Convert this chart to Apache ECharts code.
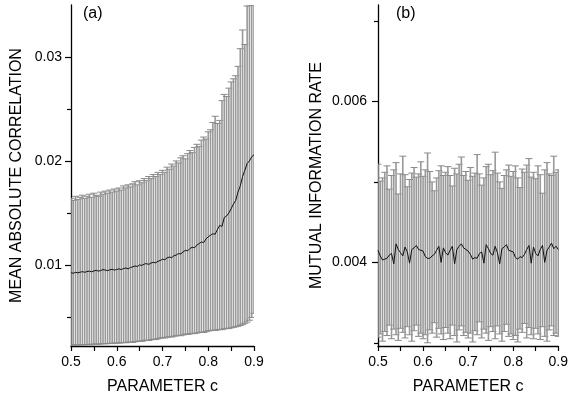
<!DOCTYPE html>
<html><head><meta charset="utf-8">
<script src="https://cdn.jsdelivr.net/npm/echarts@6/dist/echarts.min.js"></script>
<style>html,body{margin:0;padding:0;background:#fff}#c{width:571px;height:401px}</style>
</head><body><div id="c"></div>
<script>
// Parameter c values (shared by both panels)
const paramC = [0.500,0.505,0.510,0.515,0.520,0.525,0.530,0.535,0.540,0.545,
 0.550,0.555,0.560,0.565,0.570,0.575,0.580,0.585,0.590,0.595,
 0.600,0.605,0.610,0.615,0.620,0.625,0.630,0.635,0.640,0.645,
 0.650,0.655,0.660,0.665,0.670,0.675,0.680,0.685,0.690,0.695,
 0.700,0.705,0.710,0.715,0.720,0.725,0.730,0.735,0.740,0.745,
 0.750,0.755,0.760,0.765,0.770,0.775,0.780,0.785,0.790,0.795,
 0.800,0.805,0.810,0.815,0.820,0.825,0.830,0.835,0.840,0.845,
 0.850,0.855,0.860,0.865,0.870,0.875,0.880,0.885,0.890,0.895,0.900];

// Panel (a): mean absolute correlation
const meanA = [0.00925,0.00920,0.00928,0.00924,0.00930,0.00935,0.00929,0.00936,0.00940,0.00934,
 0.00942,0.00948,0.00940,0.00946,0.00955,0.00950,0.00945,0.00953,0.00958,0.00950,
 0.00956,0.00962,0.00955,0.00965,0.00970,0.00962,0.00975,0.00982,0.00990,0.00984,
 0.01000,0.00995,0.01008,0.01012,0.01005,0.01018,0.01025,0.01020,0.01035,0.01042,
 0.01055,0.01050,0.01068,0.01075,0.01070,0.01088,0.01095,0.01110,0.01105,0.01125,
 0.01140,0.01135,0.01158,0.01170,0.01165,0.01190,0.01205,0.01220,0.01215,0.01250,
 0.01270,0.01285,0.01300,0.01295,0.01340,0.01380,0.01370,0.01455,0.01470,0.01500,
 0.01540,0.01585,0.01620,0.01700,0.01760,0.01850,0.01910,0.01975,0.02000,0.02040,0.02060];
const upperA = [0.0164,0.0162,0.0166,0.0163,0.0165,0.0167,0.0164,0.0166,0.0168,0.0165,
 0.0169,0.0167,0.0166,0.0170,0.0168,0.0171,0.0169,0.0172,0.0170,0.0173,
 0.0171,0.0174,0.0172,0.0176,0.0174,0.0177,0.0175,0.0178,0.0180,0.0177,
 0.0181,0.0179,0.0183,0.0181,0.0185,0.0183,0.0187,0.0185,0.0189,0.0187,
 0.0191,0.0189,0.0194,0.0192,0.0197,0.0195,0.0200,0.0198,0.0203,0.0205,
 0.0202,0.0207,0.0210,0.0208,0.0213,0.0216,0.0214,0.0220,0.0223,0.0221,
 0.0228,0.0230,0.0237,0.0243,0.0236,0.0239,0.0258,0.0264,0.0262,0.0270,
 0.0276,0.0279,0.0282,0.0291,0.0308,0.0326,0.0312,0.0349,0.0350,0.0350,0.0350];
const lowerA = [0.00230,0.00228,0.00232,0.00229,0.00231,0.00233,0.00230,0.00234,0.00236,0.00232,
 0.00238,0.00240,0.00236,0.00241,0.00243,0.00240,0.00244,0.00246,0.00243,0.00248,
 0.00250,0.00247,0.00252,0.00254,0.00251,0.00256,0.00258,0.00255,0.00261,0.00264,
 0.00268,0.00265,0.00272,0.00276,0.00273,0.00280,0.00285,0.00282,0.00290,0.00295,
 0.00300,0.00297,0.00305,0.00310,0.00306,0.00314,0.00318,0.00322,0.00319,0.00327,
 0.00335,0.00331,0.00338,0.00342,0.00339,0.00345,0.00350,0.00354,0.00350,0.00358,
 0.00365,0.00368,0.00372,0.00369,0.00376,0.00380,0.00377,0.00385,0.00390,0.00387,
 0.00395,0.00400,0.00405,0.00410,0.00418,0.00425,0.00438,0.00450,0.00468,0.00495,0.00535];

// Panel (b): mutual information rate
const meanB = [0.00415,0.00408,0.00403,0.00404,0.00405,0.00409,0.00411,0.00398,0.00423,0.00416,
 0.00412,0.00408,0.00419,0.00413,0.00399,0.00416,0.00418,0.00421,0.00416,0.00415,
 0.00414,0.00407,0.00405,0.00405,0.00408,0.00410,0.00415,0.00420,0.00400,0.00418,
 0.00412,0.00409,0.00415,0.00420,0.00398,0.00416,0.00420,0.00423,0.00418,0.00416,
 0.00414,0.00410,0.00404,0.00406,0.00405,0.00411,0.00413,0.00399,0.00422,0.00417,
 0.00411,0.00409,0.00420,0.00412,0.00398,0.00417,0.00419,0.00422,0.00415,0.00414,
 0.00413,0.00406,0.00404,0.00407,0.00406,0.00410,0.00416,0.00421,0.00399,0.00419,
 0.00411,0.00408,0.00416,0.00421,0.00400,0.00415,0.00419,0.00424,0.00417,0.00420,0.00416];
const upperB = [0.00522,0.00501,0.00505,0.00512,0.00520,0.00491,0.00508,0.00515,0.00524,0.00485,
 0.00510,0.00532,0.00509,0.00494,0.00503,0.00511,0.00518,0.00506,0.00510,0.00525,
 0.00507,0.00515,0.00536,0.00513,0.00500,0.00489,0.00505,0.00514,0.00520,0.00508,
 0.00512,0.00519,0.00508,0.00495,0.00517,0.00510,0.00522,0.00531,0.00508,0.00513,
 0.00502,0.00518,0.00507,0.00511,0.00534,0.00510,0.00496,0.00505,0.00519,0.00522,
 0.00509,0.00514,0.00537,0.00511,0.00500,0.00492,0.00508,0.00515,0.00521,0.00507,
 0.00513,0.00520,0.00505,0.00493,0.00516,0.00512,0.00521,0.00529,0.00506,0.00512,
 0.00504,0.00520,0.00509,0.00486,0.00515,0.00524,0.00510,0.00508,0.00532,0.00512,0.00515];
const lowerB = [0.00307,0.00311,0.00302,0.00314,0.00309,0.00322,0.00305,0.00317,0.00310,0.00303,
 0.00318,0.00313,0.00306,0.00320,0.00310,0.00302,0.00315,0.00322,0.00308,0.00312,
 0.00305,0.00310,0.00300,0.00316,0.00312,0.00325,0.00307,0.00318,0.00311,0.00304,
 0.00319,0.00312,0.00305,0.00322,0.00309,0.00301,0.00316,0.00321,0.00309,0.00313,
 0.00306,0.00312,0.00301,0.00315,0.00310,0.00326,0.00306,0.00317,0.00312,0.00303,
 0.00320,0.00314,0.00305,0.00321,0.00311,0.00302,0.00314,0.00323,0.00308,0.00311,
 0.00304,0.00309,0.00301,0.00317,0.00313,0.00324,0.00306,0.00319,0.00310,0.00305,
 0.00318,0.00311,0.00304,0.00320,0.00308,0.00302,0.00316,0.00321,0.00309,0.00312,0.00308];

// Tick values
const xTicks = [0.5,0.6,0.7,0.8,0.9];
const xTickMarks = [0.5,0.55,0.6,0.65,0.7,0.75,0.8,0.85,0.9];
const yTicksA = [0.01,0.02,0.03];
const yMinorA = [0.005,0.015,0.025];
const yTicksB = [0.004,0.006];
const yMinorB = [0.003,0.005,0.007];

const FONT = 'Liberation Sans, Arial, sans-serif';
const AX = '#000';

function errData(lo, hi){ return paramC.map((c,i)=>[c, lo[i], hi[i]]); }
function lineData(m){ return paramC.map((c,i)=>[c, m[i]]); }

function renderErr(params, api){
  const x = api.value(0);
  const p0 = api.coord([x, api.value(1)]);
  const p1 = api.coord([x, api.value(2)]);
  const hw = 3.5;
  const vs = {stroke:'#999999', lineWidth:1.6};
  const cs = {stroke:'#8a8a8a', lineWidth:1};
  return {type:'group', children:[
    {type:'line', shape:{x1:p0[0],y1:p0[1],x2:p1[0],y2:p1[1]}, style:vs},
    {type:'line', shape:{x1:p0[0]-hw,y1:p0[1],x2:p0[0]+hw,y2:p0[1]}, style:cs},
    {type:'line', shape:{x1:p1[0]-hw,y1:p1[1],x2:p1[0]+hw,y2:p1[1]}, style:cs}
  ]};
}

function xAxisDef(gi){
  return {type:'value', gridIndex:gi, min:0.5, max:0.9,
    name:'PARAMETER c', nameLocation:'middle', nameGap:33,
    nameTextStyle:{fontFamily:FONT, fontSize:16, color:'#000'},
    axisLine:{show:true, lineStyle:{color:AX, width:1.3}},
    axisTick:{show:true, length:5, inside:false, customValues:xTickMarks, lineStyle:{color:AX, width:1.2}},
    axisLabel:{fontFamily:FONT, fontSize:14, color:'#000', margin:9, customValues:xTicks,
      formatter:v=>(+v).toFixed(1)},
    splitLine:{show:false}};
}
function yAxisDef(gi, min, max, ticks, name, gap, dec, lm){
  return {type:'value', gridIndex:gi, min:min, max:max,
    name:name, nameLocation:'middle', nameGap:gap,
    nameTextStyle:{fontFamily:FONT, fontSize:16, color:'#000'},
    axisLine:{show:true, lineStyle:{color:AX, width:1.3}},
    axisTick:{show:true, length:6, customValues:ticks, lineStyle:{color:AX, width:1.2}},
    axisLabel:{fontFamily:FONT, fontSize:14, color:'#000', margin:lm, customValues:ticks,
      formatter:v=>(+v).toFixed(dec)},
    splitLine:{show:false}};
}
function yMinorDef(gi, min, max, ticks){
  return {type:'value', gridIndex:gi, min:min, max:max, position:'left',
    axisLine:{show:false}, axisTick:{show:true, length:4, customValues:ticks, lineStyle:{color:AX, width:1.2}},
    axisLabel:{show:false}, splitLine:{show:false}};
}

const chart = echarts.init(document.getElementById('c'), null, {renderer:'canvas'});
chart.setOption({
  backgroundColor:'#fff',
  animation:false,
  grid:[
    {left:71, right:317, top:5, bottom:55},
    {left:378, right:9, top:5, bottom:55}
  ],
  xAxis:[xAxisDef(0), xAxisDef(1)],
  yAxis:[
    yAxisDef(0, 0.0022, 0.035, yTicksA, 'MEAN ABSOLUTE CORRELATION', 46, 2, 9),
    yAxisDef(1, 0.00296, 0.0072, yTicksB, 'MUTUAL INFORMATION RATE', 53, 3, 11),
    yMinorDef(0, 0.0022, 0.035, yMinorA),
    yMinorDef(1, 0.00296, 0.0072, yMinorB)
  ],
  graphic:[
    {type:'text', left:83, top:6, style:{text:'(a)', fontFamily:FONT, fontSize:16, fill:'#000'}},
    {type:'text', left:396, top:6, style:{text:'(b)', fontFamily:FONT, fontSize:16, fill:'#000'}}
  ],
  series:[
    {type:'custom', xAxisIndex:0, yAxisIndex:0, clip:true, renderItem:renderErr, data:errData(lowerA, upperA), z:2},
    {type:'line', xAxisIndex:0, yAxisIndex:0, data:lineData(meanA), showSymbol:false, symbol:'none',
      lineStyle:{color:'#111', width:1}, z:3},
    {type:'custom', xAxisIndex:1, yAxisIndex:1, clip:true, renderItem:renderErr, data:errData(lowerB, upperB), z:2},
    {type:'line', xAxisIndex:1, yAxisIndex:1, data:lineData(meanB), showSymbol:false, symbol:'none',
      lineStyle:{color:'#111', width:1}, z:3}
  ]
});
</script></body></html>
